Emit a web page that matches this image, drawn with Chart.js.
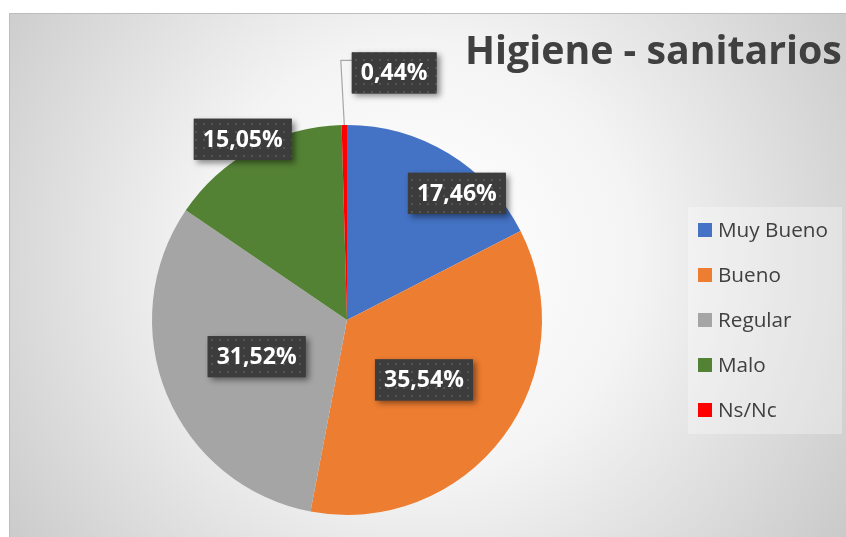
<!DOCTYPE html>
<html>
<head>
<meta charset="utf-8">
<script src="https://cdn.jsdelivr.net/npm/chart.js@4.4.1/dist/chart.umd.min.js"></script>
<style>
  html, body { margin: 0; padding: 0; background: #ffffff; }
  #wrap { position: relative; width: 846px; height: 537px; }
</style>
</head>
<body>
<div id="wrap"><canvas id="c" width="846" height="537"></canvas></div>
<script>
const chartTitle = "Higiene - sanitarios";
const categories = ["Muy Bueno", "Bueno", "Regular", "Malo", "Ns/Nc"];
const values = [17.46, 35.54, 31.52, 15.05, 0.44];
const colors = ["#4472C4", "#ED7D31", "#A5A5A5", "#548235", "#FF0000"];
// label placement relative to each slice: [radius factor, angle offset in degrees]
const labelRadius = [0.86, 0.50, 0.50, 1.07, 1.29];
const labelAngleOffset = [9.5, 1.1, 0.4, -1.3, 11.6];

function fmt(v) { return v.toFixed(2).replace('.', ',') + '%'; }

function fitFont(ctx, text, weight, family, targetW) {
  ctx.font = weight + ' 40px ' + family;
  const w = ctx.measureText(text).width;
  return 40 * targetW / w;
}

const decor = {
  id: 'decor',
  beforeDraw(chart) {
    const ctx = chart.ctx;
    ctx.save();
    ctx.fillStyle = '#ffffff';
    ctx.fillRect(0, 0, 846, 537);
    const g = ctx.createRadialGradient(420, 260, 30, 420, 260, 560);
    g.addColorStop(0, '#ffffff');
    g.addColorStop(0.35, '#f4f4f4');
    g.addColorStop(1, '#c2c2c2');
    ctx.fillStyle = g;
    ctx.fillRect(9, 13, 846 - 9, 537 - 13);
    ctx.strokeStyle = '#bdbdbd';
    ctx.lineWidth = 1;
    ctx.beginPath();
    ctx.moveTo(9.5, 537);
    ctx.lineTo(9.5, 13.5);
    ctx.lineTo(846, 13.5);
    ctx.stroke();
    // legend box
    ctx.fillStyle = 'rgba(255,255,255,0.3)';
    ctx.fillRect(688, 207, 154, 227);
    // title
    const tsize = fitFont(ctx, chartTitle, 'bold', '"Open Sans"', 377);
    ctx.font = 'bold ' + tsize + 'px "Open Sans"';
    ctx.fillStyle = '#404040';
    ctx.textBaseline = 'alphabetic';
    ctx.textAlign = 'left';
    ctx.fillText(chartTitle, 465, 64);
    // legend
    const lsize = fitFont(ctx, 'Muy Bueno', 'normal', '"Open Sans"', 110);
    ctx.font = lsize + 'px "Open Sans"';
    ctx.textBaseline = 'middle';
    for (let i = 0; i < categories.length; i++) {
      const cy = 230 + i * 45;
      ctx.fillStyle = colors[i];
      ctx.fillRect(698, cy - 7, 14, 14);
      ctx.fillStyle = '#404040';
      ctx.fillText(categories[i], 718, cy + 1);
    }
    ctx.restore();
  },
  afterDatasetsDraw(chart) {
    const ctx = chart.ctx;
    const meta = chart.getDatasetMeta(0);
    ctx.save();
    ctx.font = 'bold 23px "Open Sans"';
    // dot pattern
    const pc = document.createElement('canvas');
    pc.width = 8; pc.height = 8;
    const pctx = pc.getContext('2d');
    pctx.fillStyle = '#3c3c3c';
    pctx.fillRect(0, 0, 8, 8);
    pctx.fillStyle = '#555555';
    pctx.fillRect(3, 3, 2, 2);
    const pat = ctx.createPattern(pc, 'repeat');
    meta.data.forEach((arc, i) => {
      const p = arc.getProps(['x', 'y', 'startAngle', 'endAngle', 'outerRadius'], true);
      const mid = (p.startAngle + p.endAngle) / 2;
      const a = mid + labelAngleOffset[i] * Math.PI / 180;
      const r = p.outerRadius * labelRadius[i];
      const lx = p.x + Math.cos(a) * r;
      const ly = p.y + Math.sin(a) * r;
      const text = fmt(values[i]);
      const tw = ctx.measureText(text).width;
      const bw = tw + 18, bh = 41;
      const bx = lx - bw / 2, by = ly - bh / 2;
      if (labelRadius[i] > 1.15) {
        // leader line
        const ex = p.x + Math.cos(mid) * p.outerRadius;
        const ey = p.y + Math.sin(mid) * p.outerRadius;
        ctx.strokeStyle = '#a6a6a6';
        ctx.lineWidth = 1.2;
        ctx.beginPath();
        ctx.moveTo(ex, ey);
        ctx.lineTo(bx - 11, by + 8);
        ctx.lineTo(bx, by + 8);
        ctx.stroke();
      }
      ctx.save();
      ctx.shadowColor = 'rgba(0,0,0,0.45)';
      ctx.shadowBlur = 6;
      ctx.shadowOffsetX = 3;
      ctx.shadowOffsetY = 3;
      ctx.fillStyle = '#3c3c3c';
      ctx.fillRect(bx, by, bw, bh);
      ctx.restore();
      ctx.fillStyle = pat;
      ctx.fillRect(bx, by, bw, bh);
      ctx.fillStyle = '#ffffff';
      ctx.textAlign = 'center';
      ctx.textBaseline = 'middle';
      ctx.fillText(text, lx, ly + 1);
    });
    ctx.restore();
  }
};

new Chart(document.getElementById('c'), {
  type: 'pie',
  data: {
    labels: categories,
    datasets: [{
      data: values,
      backgroundColor: colors,
      borderWidth: 0
    }]
  },
  options: {
    responsive: false,
    devicePixelRatio: 1,
    animation: false,
    layout: { padding: { left: 152, right: 304, top: 125, bottom: 22 } },
    plugins: {
      legend: { display: false },
      tooltip: { enabled: false },
      title: { display: false }
    }
  },
  plugins: [decor]
});
</script>
</body>
</html>
